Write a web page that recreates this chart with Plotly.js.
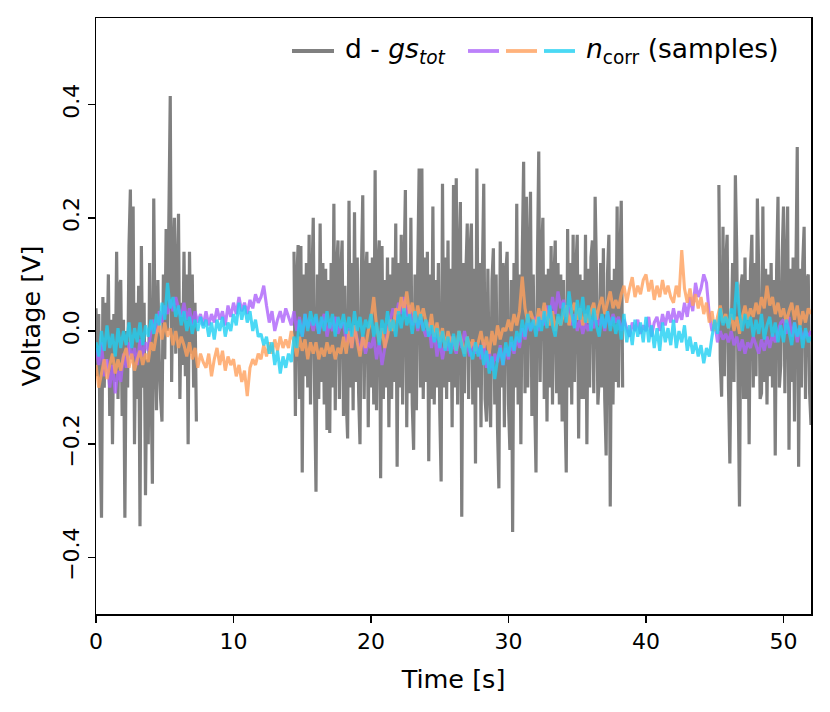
<!DOCTYPE html>
<html>
<head>
<meta charset="utf-8">
<script src="https://cdn.plot.ly/plotly-3.0.1.min.js"></script>
<style>html,body{margin:0;padding:0;background:#fff;}#chart{width:830px;height:712px;}</style>
</head>
<body>
<div id="chart"></div>
<script>
// ---- data ----
// residual d - gs_tot: three recorded segments, sample step grayStep seconds
const grayStep = 0.1;
const grayStarts = [0, 14.4, 45.3];
const graySeg1 = [
  0.04, -0.08, 0.03, -0.2, -0.33, 0.06, -0.1, 0.05, -0.05, 0.1,
  -0.15, 0.02, -0.2, 0.03, -0.09, 0.14, -0.12, 0.08, 0.09, -0.15,
  0.02, -0.33, 0.0, -0.1, 0.15, 0.25, -0.05, 0.22, -0.2, 0.05,
  -0.12, 0.08, -0.345, 0.15, -0.1, 0.05, -0.29, -0.05, -0.2, 0.12,
  -0.08, -0.27, 0.234, -0.02, -0.14, 0.09, -0.05, -0.12, -0.16, 0.1,
  -0.05, 0.18, 0.0, 0.2, 0.415, -0.09, 0.12, 0.2, -0.04, 0.09,
  0.207, -0.12, 0.05, -0.06, 0.14, -0.08, 0.1, -0.2, 0.14, -0.04,
  0.1, -0.1, 0.05, -0.16
];
const graySeg2 = [
  0.14, -0.15, 0.09, 0.152, -0.12, 0.15, -0.25, 0.1, -0.08, 0.12,
  -0.1, 0.17, -0.13, 0.08, 0.2, -0.11, -0.284, 0.1, -0.12, 0.19,
  -0.09, 0.12, -0.13, 0.11, -0.175, 0.09, -0.18, 0.12, -0.1, 0.225,
  -0.14, 0.11, 0.16, -0.12, 0.1, 0.16, -0.15, 0.08, -0.12, -0.19,
  0.23, -0.1, 0.12, -0.14, 0.21, -0.09, 0.13, -0.11, -0.2, 0.1,
  0.24, -0.12, 0.09, 0.14, -0.17, 0.12, -0.1, 0.13, -0.13, 0.284,
  -0.14, 0.11, 0.16, -0.26, 0.15, -0.12, 0.09, -0.1, 0.13, -0.17,
  0.1, -0.12, 0.13, -0.09, 0.19, -0.24, 0.12, -0.1, 0.17, -0.13,
  0.1, 0.249, -0.17, 0.12, -0.11, 0.2, -0.13, -0.21, 0.1, -0.14,
  0.11, 0.287, -0.1, 0.287, -0.12, 0.13, -0.09, 0.14, -0.23, 0.1,
  -0.12, 0.22, -0.13, 0.09, -0.1, 0.12, -0.14, -0.266, 0.26, -0.1,
  0.13, -0.12, 0.16, -0.09, 0.11, -0.17, 0.258, -0.1, 0.27, -0.13,
  0.12, 0.228, -0.328, 0.12, -0.11, 0.1, 0.19, -0.12, 0.14, 0.19,
  -0.13, 0.11, -0.234, 0.287, -0.1, 0.12, -0.17, 0.1, 0.26, -0.12,
  -0.16, 0.11, -0.1, -0.17, 0.09, 0.146, -0.13, 0.1, -0.17, -0.278,
  0.158, -0.1, 0.12, -0.17, 0.1, 0.14, -0.13, -0.21, 0.09, -0.355,
  0.12, -0.1, 0.225, -0.13, 0.1, -0.2, 0.13, 0.299, -0.11, 0.237,
  -0.1, 0.12, 0.246, -0.15, 0.1, -0.12, -0.25, 0.11, 0.317, -0.09,
  0.13, 0.2, -0.12, 0.1, -0.16, 0.11, -0.1, 0.15, -0.13, 0.09,
  0.16, -0.11, 0.12, -0.13, 0.1, -0.16, 0.09, -0.12, -0.25, 0.18,
  -0.1, 0.12, -0.13, 0.17, -0.09, 0.11, 0.17, -0.19, 0.1, -0.12,
  0.09, -0.12, 0.17, -0.2, 0.11, -0.1, 0.13, 0.16, -0.11, 0.237,
  0.1, -0.13, -0.08, 0.12, -0.1, 0.146, -0.12, -0.22, 0.1, 0.17,
  -0.31, 0.09, -0.13, 0.11, -0.09, 0.22, -0.1, 0.12, 0.23, -0.1
];
const graySeg3 = [
  0.258, -0.05, -0.116, 0.184, -0.08, 0.12, 0.17, -0.1, -0.234, 0.0,
  0.12, -0.09, 0.275, 0.14, -0.1, -0.31, 0.08, 0.1, -0.12, 0.13,
  -0.12, 0.09, -0.2, 0.11, 0.17, -0.1, 0.12, -0.08, 0.234, 0.1,
  -0.12, -0.11, 0.22, -0.09, 0.11, -0.13, 0.1, -0.08, 0.12, -0.1,
  0.09, -0.22, 0.11, 0.237, -0.1, -0.06, 0.13, 0.22, -0.11, 0.1,
  0.22, -0.21, 0.11, -0.09, 0.13, -0.16, 0.1, 0.325, -0.24, 0.11,
  -0.1, 0.12, 0.184, -0.12, 0.09, 0.1, -0.11, -0.166
];

// n_corr samples, step corrStep seconds from t = 0
const corrStep = 0.2;
const nPurple = [
  -0.03, -0.06, -0.02, -0.08, -0.05, -0.1, -0.06, -0.11, -0.07, -0.09,
  -0.04, -0.065, -0.02, -0.05, -0.03, -0.06, -0.015, -0.045, -0.02, -0.035,
  0.0, 0.02, -0.005, 0.035, 0.015, 0.045, 0.03, 0.055, 0.035, 0.06,
  0.04, 0.025, 0.05, 0.02, 0.04, 0.01, 0.035, 0.015, 0.03, 0.01,
  0.035, 0.01, 0.03, 0.015, 0.04, 0.02, 0.035, 0.01, 0.045, 0.025,
  0.05, 0.03, 0.06, 0.035, 0.05, 0.03, 0.055, 0.04, 0.065, 0.05,
  0.06, 0.08, 0.045, 0.015, 0.035, 0.0, 0.02, 0.035, 0.015, 0.04,
  0.025, 0.01, 0.035, 0.0, 0.025, -0.01, 0.03, 0.005, 0.02, 0.0,
  0.025, -0.005, 0.015, 0.03, -0.01, 0.015, 0.0, 0.025, -0.005, 0.01,
  0.015, -0.02, 0.005, -0.03, 0.01, -0.015, -0.035, -0.01, -0.04, -0.02,
  -0.03, -0.01, -0.05, -0.02, -0.06, -0.03, 0.0, 0.02, 0.04, 0.02,
  0.05, 0.03, 0.06, 0.025, 0.045, 0.01, 0.035, 0.0, 0.025, 0.005,
  -0.01, 0.015, -0.03, 0.0, -0.045, -0.015, -0.05, -0.02, -0.035, -0.01,
  -0.025, -0.04, -0.01, -0.03, 0.0, -0.025, -0.045, -0.02, -0.04, -0.025,
  -0.05, -0.02, -0.065, -0.035, -0.07, -0.04, -0.055, -0.025, -0.06, -0.03,
  -0.05, -0.02, -0.04, -0.01, -0.03, 0.005, -0.015, 0.02, 0.0, 0.015,
  0.025, 0.0, 0.035, 0.01, 0.045, 0.02, 0.06, 0.03, 0.07, 0.04,
  0.055, 0.025, 0.045, 0.01, 0.03, 0.0, 0.02, -0.005, 0.015, 0.0,
  0.02, 0.005, 0.03, 0.01, 0.025, 0.0, 0.035, 0.01, 0.03, 0.015,
  0.025, 0.0, 0.02, 0.005, -0.01, 0.015, 0.0, 0.02, -0.005, 0.01,
  0.0, 0.025, -0.01, 0.015, 0.025, 0.0, 0.03, 0.01, 0.035, 0.015,
  0.04, 0.015, 0.035, 0.02, 0.05, 0.025, 0.06, 0.035, 0.085, 0.06,
  0.075, 0.1, 0.085, 0.03, 0.0, 0.015, -0.02, 0.0, -0.015, -0.005,
  -0.02, 0.0, -0.025, -0.01, -0.035, -0.015, -0.04, -0.02, -0.03, -0.01,
  -0.025, -0.04, -0.015, -0.035, -0.01, -0.03, -0.005, -0.02, 0.0, 0.015,
  0.02, -0.005, 0.025, -0.01, 0.015, -0.02, 0.005, -0.015, 0.0, -0.01,
  0.0
];
const nOrange = [
  -0.06, -0.1, -0.075, -0.05, -0.085, -0.06, -0.04, -0.075, -0.05, -0.07,
  -0.045, -0.03, -0.065, -0.04, -0.07, -0.05, -0.035, -0.06, -0.04, -0.055,
  -0.02, -0.035, -0.005, 0.01, -0.015, 0.015, -0.01, 0.005, -0.025, 0.0,
  -0.03, -0.01, -0.025, -0.045, -0.02, -0.05, -0.03, -0.065, -0.04, -0.055,
  -0.065, -0.04, -0.08, -0.05, -0.03, -0.06, -0.035, -0.07, -0.045, -0.06,
  -0.05, -0.08, -0.06, -0.09, -0.07, -0.115, -0.065, -0.05, -0.06, -0.04,
  -0.05, -0.025, -0.045, -0.02, -0.04, -0.015, -0.035, -0.01, -0.03, -0.015,
  -0.03, 0.0, -0.02, -0.045, -0.01, -0.035, -0.015, -0.05, -0.02, -0.04,
  -0.02, -0.05, -0.03, -0.045, -0.02, -0.04, -0.025, -0.05, -0.03, -0.04,
  -0.01, -0.04, 0.0, -0.03, 0.01, -0.02, -0.045, -0.01, -0.03, 0.0,
  0.02, 0.06, 0.01, -0.02, 0.005, -0.03, -0.01, 0.02, 0.0, 0.04,
  0.03, 0.06, 0.035, 0.07, 0.03, 0.05, 0.015, 0.045, 0.02, 0.04,
  0.015, 0.0, 0.03, -0.01, 0.015, -0.02, 0.005, -0.03, 0.0, -0.02,
  -0.01, -0.035, 0.0, -0.02, -0.04, -0.01, -0.03, -0.015, -0.035, -0.02,
  0.0, -0.03, -0.01, -0.04, 0.0, -0.025, 0.01, -0.015, 0.005, 0.0,
  0.02, 0.0, 0.03, 0.01, 0.035, 0.096, 0.04, 0.015, 0.035, 0.02,
  0.01, 0.04, 0.02, 0.05, 0.025, 0.01, 0.035, 0.0, 0.025, 0.01,
  0.03, 0.045, 0.01, 0.035, 0.05, 0.02, 0.04, 0.01, 0.03, 0.015,
  0.035, 0.05, 0.02, 0.045, 0.06, 0.03, 0.05, 0.07, 0.04, 0.055,
  0.04, 0.065, 0.08, 0.05, 0.075, 0.095, 0.06, 0.08, 0.065, 0.09,
  0.1, 0.07, 0.09, 0.055, 0.08, 0.06, 0.09, 0.065, 0.08, 0.06,
  0.05, 0.08, 0.06, 0.143, 0.075, 0.05, 0.075, 0.045, 0.065, 0.04,
  0.06, 0.03, 0.05, 0.015, 0.035, 0.0, 0.025, 0.045, 0.015, 0.03,
  0.005, 0.03, 0.0, 0.025, -0.005, 0.025, 0.045, 0.02, 0.04, 0.025,
  0.05, 0.03, 0.06, 0.04, 0.08, 0.045, 0.06, 0.03, 0.05, 0.025,
  0.04, 0.015, 0.035, 0.05, 0.02, 0.045, 0.01, 0.035, 0.015, 0.04,
  0.03
];
const nCyan = [
  -0.02, -0.045, 0.0, -0.035, 0.01, -0.03, -0.005, -0.045, 0.005, -0.03,
  0.0, -0.025, 0.015, -0.03, 0.005, -0.02, 0.015, -0.025, 0.01, -0.01,
  0.02, -0.005, 0.03, 0.01, 0.05, 0.02, 0.085, 0.04, 0.06, 0.025,
  0.045, 0.01, 0.035, 0.0, 0.025, -0.005, 0.02, 0.0, 0.025, 0.005,
  0.02, -0.01, 0.015, -0.015, 0.02, 0.0, 0.025, -0.01, 0.015, 0.0,
  0.03, 0.01, 0.05, 0.02, 0.045, 0.015, 0.035, 0.0, 0.02, -0.01,
  -0.005, -0.025, -0.01, -0.04, -0.02, -0.06, -0.035, -0.075, -0.045, -0.065,
  -0.04, -0.055, -0.01, -0.03, 0.02, -0.01, 0.03, 0.0, 0.035, 0.01,
  0.03, -0.005, 0.025, 0.0, 0.035, 0.005, 0.03, -0.01, 0.025, 0.005,
  0.03, -0.005, 0.025, -0.01, 0.035, 0.0, 0.025, -0.01, 0.02, 0.005,
  0.03, -0.01, 0.015, -0.025, 0.02, -0.005, 0.035, 0.0, 0.02, -0.01,
  0.035, 0.005, 0.04, 0.01, 0.03, -0.005, 0.035, 0.005, 0.03, 0.0,
  0.02, -0.01, 0.01, -0.02, 0.005, -0.03, 0.0, -0.035, -0.01, -0.04,
  -0.005, -0.035, 0.0, -0.025, -0.045, -0.01, -0.035, -0.05, -0.02, -0.045,
  -0.025, -0.06, -0.035, -0.075, -0.045, -0.085, -0.05, -0.03, -0.06, -0.02,
  -0.045, -0.01, -0.035, 0.0, -0.02, 0.02, -0.01, 0.03, 0.0, 0.02,
  -0.01, 0.025, 0.0, 0.035, 0.005, 0.045, 0.01, -0.01, 0.03, 0.01,
  0.05, 0.015, 0.07, 0.03, 0.005, 0.055, 0.02, 0.06, 0.015, 0.045,
  0.0, 0.04, 0.01, -0.01, 0.03, 0.005, 0.035, 0.0, 0.025, -0.005,
  0.02, -0.015, 0.03, -0.02, 0.01, -0.025, 0.02, -0.01, 0.015, -0.02,
  0.025, -0.02, 0.01, -0.03, 0.005, -0.035, 0.015, -0.02, 0.005, -0.025,
  0.02, -0.03, 0.0, -0.02, 0.01, -0.035, -0.01, -0.04, -0.02, -0.045,
  -0.025, -0.057, -0.03, -0.045, -0.01, 0.02, -0.005, 0.04, 0.01, 0.025,
  0.005, 0.04, 0.02, 0.087, 0.03, 0.0, 0.03, 0.005, 0.025, -0.01,
  0.02, -0.005, 0.03, -0.015, 0.01, 0.025, -0.01, 0.015, -0.02, 0.01,
  -0.02, 0.02, 0.0, -0.025, 0.015, -0.01, 0.01, -0.03, 0.005, -0.02,
  -0.01
];

const xTickVals = [0, 10, 20, 30, 40, 50];
const yTickVals = [-0.4, -0.2, 0.0, 0.2, 0.4];
const xRange = [0, 52];
const yRange = [-0.5, 0.553];

// ---- build traces ----
const segs = [graySeg1, graySeg2, graySeg3];
const grayX = [], grayY = [];
segs.forEach((seg, k) => {
  seg.forEach((v, i) => { grayX.push(grayStarts[k] + i * grayStep); grayY.push(v); });
  if (k < segs.length - 1) { grayX.push(null); grayY.push(null); }
});
const corrX = nPurple.map((_, i) => i * corrStep);

const font = 'DejaVu Sans, Verdana, sans-serif';
const cGray = 'rgb(128,128,128)', cPurple = 'rgb(172,98,250)', cOrange = 'rgb(255,160,92)', cCyan = 'rgb(30,208,242)';
const traces = [
  {x: grayX, y: grayY, mode: 'lines', line: {color: cGray, width: 3.2, simplify: false}, connectgaps: false, hoverinfo: 'skip', showlegend: false},
  {x: corrX, y: nPurple, mode: 'lines', line: {color: cPurple, width: 3.1, simplify: false}, opacity: 0.8, hoverinfo: 'skip', showlegend: false},
  {x: corrX, y: nOrange, mode: 'lines', line: {color: cOrange, width: 3.1, simplify: false}, opacity: 0.8, hoverinfo: 'skip', showlegend: false},
  {x: corrX, y: nCyan, mode: 'lines', line: {color: cCyan, width: 3.1, simplify: false}, opacity: 0.8, hoverinfo: 'skip', showlegend: false}
];

// legend drawn in paper coordinates
const L = 96, R = 811, T = 18, B = 614;
const px = v => (v - L) / (R - L);
const py = v => (B - v) / (B - T);
const legY = py(51);
const swatch = (a, b, color, op) => ({type: 'line', xref: 'paper', yref: 'paper', x0: px(a), x1: px(b), y0: legY, y1: legY, line: {color: color, width: 3.8}, opacity: op});

const layout = {
  width: 830, height: 712,
  margin: {l: L, r: 830 - R, t: T, b: 712 - B, pad: 0},
  paper_bgcolor: '#fff', plot_bgcolor: '#fff',
  font: {family: font, color: '#000', size: 22},
  showlegend: false,
  xaxis: {
    range: xRange, tickvals: xTickVals, ticks: 'outside', ticklen: 7, tickwidth: 1.5, tickcolor: '#000',
    showline: true, linecolor: '#000', linewidth: 1.5, mirror: true, showgrid: false, zeroline: false,
    tickfont: {family: font, size: 22, color: '#000'},
    title: {text: 'Time [s]', font: {family: font, size: 25.5, color: '#000'}, standoff: 17}
  },
  yaxis: {
    range: yRange, tickvals: yTickVals, tickformat: '.1f', tickangle: -90, ticks: 'outside', ticklen: 7, tickwidth: 1.5, tickcolor: '#000',
    showline: true, linecolor: '#000', linewidth: 1.5, mirror: true, showgrid: false, zeroline: false,
    tickfont: {family: font, size: 22, color: '#000'},
    title: {text: 'Voltage [V]', font: {family: font, size: 25.5, color: '#000'}, standoff: 11}
  },
  shapes: [
    swatch(292, 334, cGray, 1),
    swatch(468, 499, cPurple, 0.8),
    swatch(506, 537, cOrange, 0.8),
    swatch(544, 575, cCyan, 0.8)
  ],
  annotations: [
    {xref: 'paper', yref: 'paper', x: px(343), y: legY, xanchor: 'left', yanchor: 'middle', showarrow: false,
     text: 'd - <i>gs</i><sub><i>tot</i></sub>', font: {family: font, size: 26.5, color: '#000'}},
    {xref: 'paper', yref: 'paper', x: px(584), y: legY, xanchor: 'left', yanchor: 'middle', showarrow: false,
     text: '<i>n</i><sub>corr</sub> (samples)', font: {family: font, size: 26.5, color: '#000'}}
  ]
};

Plotly.newPlot('chart', traces, layout, {staticPlot: true, displayModeBar: false});
</script>
</body>
</html>
